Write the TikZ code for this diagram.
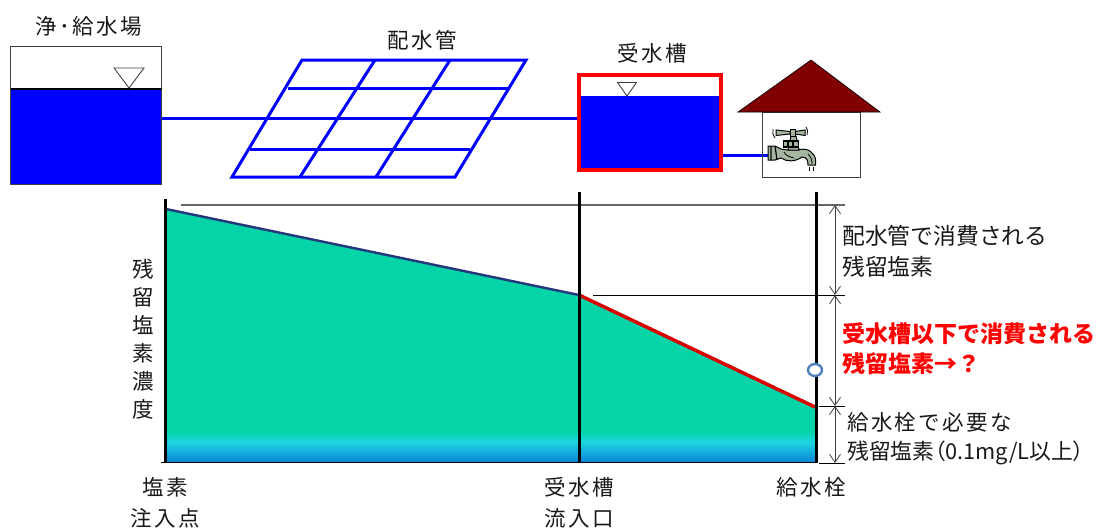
\documentclass[tikz,border=0pt]{standalone}
\usepackage{fontspec}
\setmainfont{Noto Sans CJK JP}
\newfontfamily\spaced[LetterSpace=11]{Noto Sans CJK JP}
\newfontfamily\tightparen[RawFeature=+palt]{Noto Sans CJK JP}
\usetikzlibrary{arrows.meta,shapes.geometric}
\definecolor{pipe}{RGB}{0,0,255}
\definecolor{water}{RGB}{0,0,255}
\definecolor{teal1}{RGB}{5,212,168}
\definecolor{teal2}{RGB}{30,215,225}
\definecolor{teal3}{RGB}{10,130,215}
\definecolor{roof}{RGB}{128,0,0}
\definecolor{faucet}{RGB}{165,182,160}
\definecolor{marker}{RGB}{79,129,189}
\definecolor{upperline}{RGB}{35,55,125}
\tikzset{
  x=1pt,y=-1pt,
  pipeln/.style={draw=pipe,line width=3pt},
  lbl/.style={font=\spaced\fontsize{21.5}{24}\selectfont,text=black!90,inner sep=0pt,anchor=center},
  lbll/.style={lbl,anchor=west},
  redlbl/.style={lbll,font=\fontsize{23}{24}\selectfont\bfseries,text=red},
  axisln/.style={draw=black,line width=3pt},
  dim/.style={draw=black!75,line width=.8pt,{Straight Barb[length=8pt,width=11pt]}-{Straight Barb[length=8pt,width=11pt]}},
  tick/.style={draw=black,line width=1pt},
  tap/.style={fill=faucet,draw=black,line width=1pt},
}
\begin{document}
\begin{tikzpicture}
\useasboundingbox (0,0) rectangle (1097,530);
% distribution pipe grid
\draw[pipeln] (162,118) -- (580,118);
\draw[pipeln,line join=miter] (302,60) -- (526,60) -- (455,177) -- (232,177) -- cycle;
\draw[pipeln] (288,88) -- (509,88);
\draw[pipeln] (250,149) -- (470,149);
\draw[pipeln] (375,60) -- (300,177);
\draw[pipeln] (450,60) -- (376,177);
% purification plant tank
\node[draw=black!75,fill=white,line width=1pt,minimum width=151pt,minimum height=138pt,inner sep=0pt] (plant) at (86,115) {};
\fill[water] (10.5,89) rectangle (161.5,184);
\draw[black!75,line width=1pt] (10.5,184) -- (161.5,184) -- (161.5,89);
\draw[black,line width=1.3pt] (10.5,89) -- (161.5,89);
\draw[black!75,line width=.9pt] (114,68) -- (144,68) -- (129,88) -- cycle;
\node[lbl] at (89,26) {浄･給水場};
\node[lbl] at (422,40) {配水管};
\node[lbl] at (652,53) {受水槽};
% receiving tank
\fill[water] (579,96) rectangle (721,170);
\draw[red,line width=4pt] (579,75) rectangle (721,170);
\draw[black!75,line width=.9pt] (617.5,82.5) -- (636.5,82.5) -- (627,96) -- cycle;
\draw[pipeln] (723,155) -- (770,155);
% house
\draw[black!75,line width=1pt] (762.5,112) rectangle (860,177);
\fill[roof,draw=black,line width=.6pt] (738,112) -- (811,60) -- (880,112) -- cycle;
% faucet
\path[tap] (768,146) -- (775,146) -- (781,149) .. controls (795,152) and (805,146) .. (811,152) .. controls (816,156) and (816,160) .. (815.5,165) -- (808,165) .. controls (808,161) and (807,157) .. (802,157) .. controls (795,162) and (787,162) .. (781,158) -- (775,160) -- (768,160) -- cycle;
\draw[black,line width=1.2pt] (775,146) -- (777,160) (771,146) -- (771,160);
\draw[black,line width=.8pt] (784,152) .. controls (786,156) and (790,157) .. (794,158);
\draw[black,line width=.8pt] (808,154) .. controls (811,157) and (812,160) .. (812,164);
\path[tap] (791,136) -- (796,136) -- (799,150) -- (788,150) -- cycle;
\path[tap,line width=1.2pt] (783.5,141) rectangle (798.5,147);
\draw[black,line width=1.2pt] (788,141) -- (788,147) (793,141) -- (793,147);
\path[tap] (776,130) -- (790,131.5) -- (790,134) -- (776,135.5) -- cycle;
\path[tap] (805,130) -- (795,131.5) -- (795,134) -- (805,135.5) -- cycle;
\path[tap] (790,129.5) rectangle (795,136);
\draw[black,line width=.8pt] (773,129) .. controls (772,132) and (773,135) .. (775,138);
\draw[black,line width=.8pt] (806,127) .. controls (808,129) and (808,132) .. (807,135);
\draw[black,line width=.9pt] (809,167) -- (809,171) (813,167) -- (813,171);
% chlorine profile
\fill[teal1] (167,209) -- (579,295) -- (815,407) -- (815,434) -- (167,434) -- cycle;
\shade[bottom color=teal2,top color=teal1] (167,431) rectangle (815,442);
\shade[top color=teal2,bottom color=teal3] (167,442) rectangle (815,462);
\draw[draw=upperline,line width=2.4pt] (166,209) -- (579,295);
\draw[draw=red!85!black,line width=3.5pt] (579,295) -- (815,407);
% guide lines
\draw[tick,draw=black!60,line width=1.5pt] (181,205) -- (845,205);
\draw[tick] (593,295) -- (845,295);
\draw[tick] (819,406) -- (845,406);
\draw[tick] (819,463) -- (845,463);
\draw[tick,line width=1.5pt] (161,462.5) -- (817,462.5);
% axes
\draw[axisln] (165.5,199) -- (165.5,463);
\draw[axisln] (579,192) -- (579,463);
\draw[axisln] (816,192) -- (816,463);
% dimension arrows
\coordinate (d0) at (835,205);
\coordinate (d1) at (835,295);
\coordinate (d2) at (835,406);
\coordinate (d3) at (835,463);
\draw[dim] (d0) -- (d1);
\draw[dim] (d1) -- (d2);
\draw[dim] (d2) -- (d3);
\node[draw=marker,fill=white,line width=2.4pt,ellipse,minimum width=14pt,minimum height=12pt,inner sep=0pt] (mark) at (815,370) {};
% labels
\node[lbll,font=\fontsize{22.8}{24}\selectfont] at (842,236) {配水管で消費される};
\node[lbll,font=\fontsize{22.8}{24}\selectfont] at (842,267) {残留塩素};
\node[redlbl] at (842,334) {受水槽以下で消費される};
\node[redlbl] at (842,364) {残留塩素→？};
\node[lbll] at (847,422) {給水栓で必要な};
\node[lbll,font=\fontsize{21.8}{24}\selectfont] at (847,453) {残留塩素{\tightparen（}0.1mg/L以上{\tightparen）}};
\node[lbl] at (143,269) {残};
\node[lbl] at (143,297) {留};
\node[lbl] at (143,325) {塩};
\node[lbl] at (143,353) {素};
\node[lbl] at (143,381) {濃};
\node[lbl] at (143,409) {度};
\node[lbl] at (165,487) {塩素};
\node[lbl] at (165,518) {注入点};
\node[lbl] at (579,487) {受水槽};
\node[lbl] at (579,518) {流入口};
\node[lbl] at (811,487) {給水栓};
\end{tikzpicture}
\end{document}
